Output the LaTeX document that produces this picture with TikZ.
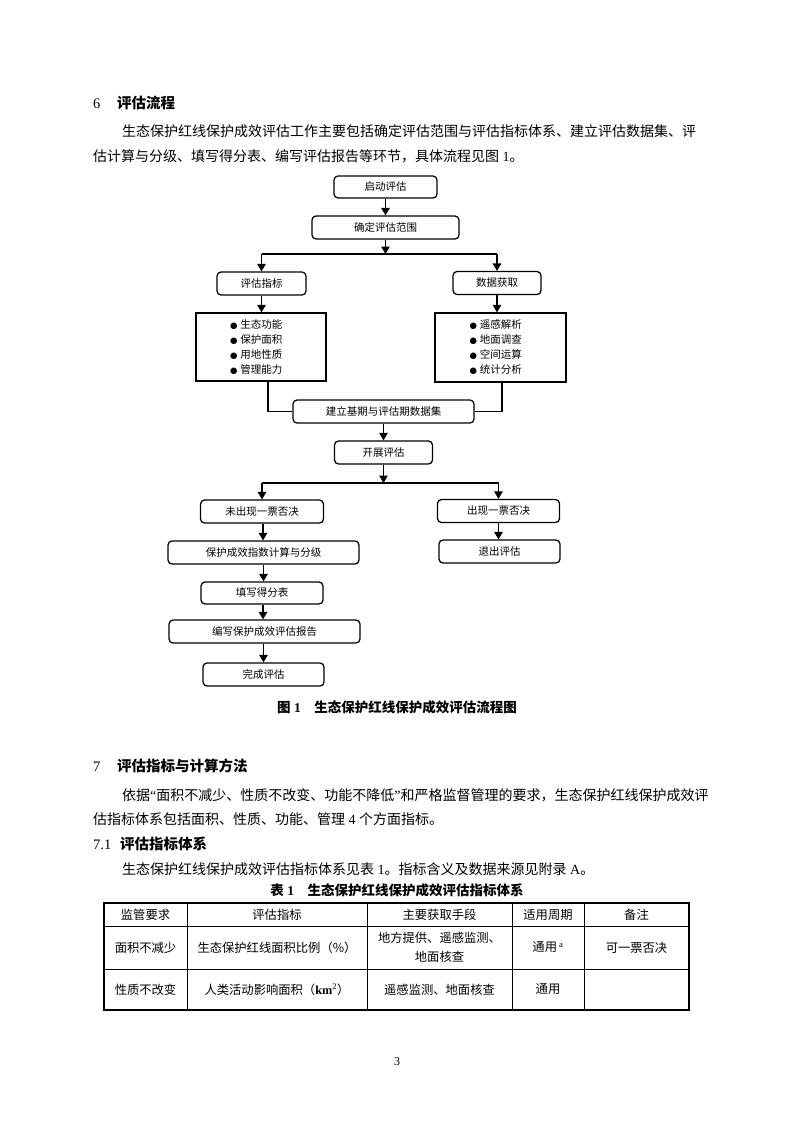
\documentclass[tikz,border=0pt]{standalone}
\usepackage{fontspec}
\setmainfont{Liberation Serif}
\newfontfamily\cjk{Noto Sans CJK SC}
\newfontfamily\djv{DejaVu Sans}
\usetikzlibrary{arrows.meta}
\XeTeXlinebreaklocale "zh"
\XeTeXlinebreakskip=0pt plus 3pt minus 0.5pt
\newcommand{\lat}[1]{{\rmfamily #1}}
\newcommand{\bul}{{\djv\fontsize{8.5}{10}\selectfont ●}\hspace{3pt}}
\tikzset{
 flowbox/.style={draw, line width=1.25pt, rounded corners=4pt, inner sep=0pt, minimum height=23pt, font=\cjk\fontsize{10.5}{12}\selectfont},
 listbox/.style={draw, line width=1.25pt, inner sep=0pt, align=left, text width=62pt, font=\cjk\fontsize{10.5}{15}\selectfont},
 arr/.style={line width=1.25pt, -{Triangle[length=7.5pt,width=8.5pt]}},
 conn/.style={line width=1.25pt},
 bodytext/.style={inner sep=0pt, anchor=west, font=\cjk\fontsize{14}{16}\selectfont},
 heading/.style={inner sep=0pt, anchor=west, font=\cjk\bfseries\fontsize{14.5}{16}\selectfont},
 captext/.style={inner sep=0pt, font=\cjk\bfseries\fontsize{13.5}{16}\selectfont},
 tcell/.style={inner sep=0pt, align=center, font=\cjk\fontsize{12.3}{19}\selectfont},
 outer/.style={line width=1.2pt},
 inner/.style={line width=0.7pt},
}
\begin{document}
\begin{tikzpicture}[x=1pt,y=-1pt]
\useasboundingbox (0,0) rectangle (793,1122);
\fill[white] (0,0) rectangle (793,1122);

% ---------- section 6 ----------
\node[heading] (h6) at (93,103) {\makebox[24pt][l]{\lat{\mdseries 6}}评估流程};
\node[bodytext] (p1a) at (122,131) {\makebox[593pt][s]{生态保护红线保护成效评估工作主要包括确定评估范围与评估指标体系、建立评估数据集、评}};
\node[bodytext] (p1b) at (93,156) {估计算与分级、填写得分表、编写评估报告等环节，具体流程见图\lat{ 1}。};

% ---------- flowchart ----------
\node[flowbox, minimum width=103pt, minimum height=22pt] (qd) at (385.5,187) {启动评估};
\node[flowbox, minimum width=147pt] (fw) at (385.5,227.5) {确定评估范围};
\node[flowbox, minimum width=89pt] (zb) at (261.5,283.5) {评估指标};
\node[flowbox, minimum width=88pt] (sj) at (497,283) {数据获取};
\node[listbox, minimum width=130pt, minimum height=68pt] (lb) at (261,347)
  {\bul 生态功能\\ \bul 保护面积\\ \bul 用地性质\\ \bul 管理能力};
\node[listbox, minimum width=131pt, minimum height=69pt] (rb) at (500.5,347.5)
  {\bul 遥感解析\\ \bul 地面调查\\ \bul 空间运算\\ \bul 统计分析};
\node[flowbox, minimum width=181pt] (jl) at (383.5,411.5) {建立基期与评估期数据集};
\node[flowbox, minimum width=98pt] (kz) at (383.5,452.5) {开展评估};
\node[flowbox, minimum width=123pt] (wc) at (262,511.5) {未出现一票否决};
\node[flowbox, minimum width=122pt] (cx) at (498.5,511) {出现一票否决};
\node[flowbox, minimum width=121pt] (tc) at (499.5,551.5) {退出评估};
\node[flowbox, minimum width=191pt] (bh) at (263.5,552.5) {保护成效指数计算与分级};
\node[flowbox, minimum width=122pt, minimum height=22pt] (tx) at (262,593) {填写得分表};
\node[flowbox, minimum width=191pt] (bx) at (264.5,631.5) {编写保护成效评估报告};
\node[flowbox, minimum width=121pt] (wf) at (263.5,674.5) {完成评估};

\coordinate (j1) at (385.5,254);
\coordinate (j2) at (383.5,483);

\draw[arr] (qd.south) -- (qd.south |- fw.north);
\draw[arr] (fw.south) -- (j1);
\draw[conn] (zb.north |- j1) -- (sj.north |- j1);
\draw[arr] (zb.north |- j1) -- (zb.north);
\draw[arr] (sj.north |- j1) -- (sj.north);
\draw[arr] (zb.south) -- (zb.south |- lb.north);
\draw[arr] (sj.south) -- (sj.south |- rb.north);
\draw[conn] ([xshift=7pt]lb.south) |- (jl.west);
\draw[conn] ([xshift=1.5pt]rb.south) |- (jl.east);
\draw[arr] (jl.south) -- (jl.south |- kz.north);
\draw[arr] (kz.south) -- (j2);
\draw[conn] (wc.north |- j2) -- (cx.north |- j2);
\draw[arr] (wc.north |- j2) -- (wc.north);
\draw[arr] (cx.north |- j2) -- (cx.north);
\draw[arr] (cx.south) -- (cx.south |- tc.north);
\draw[arr] ([xshift=1pt]wc.south) -- ([xshift=1pt]wc.south |- bh.north);
\draw[arr] (bh.south) -- (bh.south |- tx.north);
\draw[arr] ([xshift=1pt]tx.south) -- ([xshift=1pt]tx.south |- bx.north);
\draw[arr] (wf.north |- bx.south) -- (wf.north);

\node[captext] (cap1) at (397,707) {图\lat{ 1}\hspace{1em}生态保护红线保护成效评估流程图};

% ---------- section 7 ----------
\node[heading] (h7) at (93,766) {\makebox[24pt][l]{\lat{\mdseries 7}}评估指标与计算方法};
\node[bodytext] (p2a) at (122,795) {\makebox[593pt][s]{依据\lat{“}面积不减少、性质不改变、功能不降低\lat{”}和严格监督管理的要求，生态保护红线保护成效评}};
\node[bodytext] (p2b) at (93,819) {估指标体系包括面积、性质、功能、管理\lat{ 4 }个方面指标。};
\node[heading] (h71) at (93,844) {\makebox[27pt][l]{\lat{\mdseries 7.1}}评估指标体系};
\node[bodytext] (p3) at (122,869) {生态保护红线保护成效评估指标体系见表\lat{ 1}。指标含义及数据来源见附录\lat{ A}。};
\node[captext] (cap2) at (397,890) {表\lat{ 1}\hspace{1em}生态保护红线保护成效评估指标体系};

% ---------- table ----------
\draw[inner] (104,926) -- (689,926);
\draw[inner] (104,969) -- (689,969);
\foreach \cx in {187,367,512,584} \draw[inner] (\cx,903) -- (\cx,1010);
\draw[outer] (104,903) rectangle (689,1010);

\node[tcell] (t11) at (145.5,914.5) {监管要求};
\node[tcell] (t12) at (277,914.5) {评估指标};
\node[tcell] (t13) at (439.5,914.5) {主要获取手段};
\node[tcell] (t14) at (548,914.5) {适用周期};
\node[tcell] (t15) at (636.5,914.5) {备注};

\node[tcell] (t21) at (145.5,947.5) {面积不减少};
\node[tcell] (t22) at (277,947.5) {生态保护红线面积比例（\%）};
\node[tcell] (t23) at (439.5,947.5) {地方提供、遥感监测、\\地面核查};
\node[tcell] (t24) at (548,947.5) {通用\lat{\textsuperscript{ a}}};
\node[tcell] (t25) at (636.5,947.5) {可一票否决};

\node[tcell] (t31) at (145.5,989.5) {性质不改变};
\node[tcell] (t32) at (277,989.5) {人类活动影响面积（\lat{\textbf{km}\textsuperscript{2}}）};
\node[tcell] (t33) at (439.5,989.5) {遥感监测、地面核查};
\node[tcell] (t34) at (548,989.5) {通用};

\node[inner sep=0pt, font=\fontsize{12}{14}\selectfont] (pg) at (397,1062) {3};
\end{tikzpicture}
\end{document}
